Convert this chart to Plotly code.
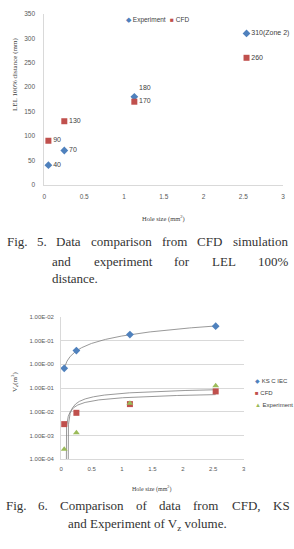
import numpy as np
import plotly.graph_objects as go

W, H = 294, 549

# ---------------- Fig. 5 data ----------------
hole_size = [0.05, 0.25, 1.13, 2.54]
lel_experiment = [40, 70, 180, 310]
lel_cfd = [90, 130, 170, 260]
lel_exp_labels = ["40", "70", "180", "310(Zone 2)"]
lel_cfd_labels = ["90", "130", "170", "260"]
x_ticks = [0, 0.5, 1, 1.5, 2, 2.5, 3]
x_ticktext = ["0", "0.5", "1", "1.5", "2", "2.5", "3"]

# ---------------- Fig. 6 data ----------------
vz_ks = [0.68, 3.8, 18, 41]
vz_cfd = [0.003, 0.009, 0.021, 0.072]
vz_exp = [0.00026, 0.0013, 0.023, 0.125]
vz_tickvals = [1e-4, 1e-3, 1e-2, 1e-1, 1e0, 1e1, 1e2]
vz_ticktext = ["1.00E-04", "1.00E-03", "1.00E-02", "1.00E-01",
               "1.00E-00", "1.00E-01", "1.00E-02"]

BLUE, RED, GREEN = "#4F81BD", "#C0504D", "#9BBB59"
TREND = "#7F7F7F"
AX = "#D9D9D9"
TXT = "#595959"
SERIF = "Liberation Serif, DejaVu Serif, serif"
SANS = "Liberation Sans, Arial, sans-serif"


def px(x):
    return x / W


def py(y):
    return 1 - y / H


def power_trend(x, y):
    a, b = np.polyfit(np.log(x), np.log(y), 1)
    xs = np.geomspace(min(x), max(x), 300)
    return xs, np.exp(b) * xs ** a


def log_trend(x, y):
    a, b = np.polyfit(np.log(x), np.array(y, float), 1)
    lo = min(x)
    x0 = np.exp(-b / a)
    if x0 > lo:
        xs = np.concatenate([[x0], np.geomspace(x0 * 1.0005, max(x), 400)])
    else:
        xs = np.geomspace(lo, max(x), 400)
    ys = a * np.log(xs) + b
    ys = np.where(ys <= 0, 1e-9, ys)
    return xs, ys


fig = go.Figure()

# ---- Fig. 5 scatter ----
fig.add_trace(go.Scatter(
    x=hole_size, y=lel_experiment, mode="markers+text", name="Experiment",
    marker=dict(symbol="diamond", size=6, color=BLUE),
    text=lel_exp_labels,
    textposition=["middle right", "middle right", "top right", "middle right"],
    textfont=dict(size=7, color="#404040", family=SANS),
    cliponaxis=False, xaxis="x", yaxis="y", showlegend=False))
fig.add_trace(go.Scatter(
    x=hole_size, y=lel_cfd, mode="markers+text", name="CFD",
    marker=dict(symbol="square", size=6, color=RED),
    text=lel_cfd_labels, textposition="middle right",
    textfont=dict(size=7, color="#404040", family=SANS),
    cliponaxis=False, xaxis="x", yaxis="y", showlegend=False))

# ---- Fig. 6 trendlines ----
for xs, ys in [power_trend(hole_size, vz_ks),
               log_trend(hole_size, vz_cfd),
               log_trend(hole_size, vz_exp)]:
    fig.add_trace(go.Scatter(x=xs, y=ys, mode="lines",
                             line=dict(color=TREND, width=0.8),
                             xaxis="x2", yaxis="y2", showlegend=False,
                             hoverinfo="skip"))

# ---- Fig. 6 markers ----
fig.add_trace(go.Scatter(x=hole_size, y=vz_ks, mode="markers", name="KS C IEC",
                         marker=dict(symbol="diamond", size=6, color=BLUE),
                         xaxis="x2", yaxis="y2", showlegend=False, cliponaxis=False))
fig.add_trace(go.Scatter(x=hole_size, y=vz_cfd, mode="markers", name="CFD",
                         marker=dict(symbol="square", size=6, color=RED),
                         xaxis="x2", yaxis="y2", showlegend=False, cliponaxis=False))
fig.add_trace(go.Scatter(x=hole_size, y=vz_exp, mode="markers", name="Experiment",
                         marker=dict(symbol="triangle-up", size=6, color=GREEN),
                         xaxis="x2", yaxis="y2", showlegend=False, cliponaxis=False))

tickfont = dict(size=6.5, color=TXT, family=SANS)

fig.update_layout(
    width=W, height=H,
    margin=dict(l=0, r=0, t=0, b=0),
    paper_bgcolor="white", plot_bgcolor="white",
    xaxis=dict(domain=[px(43), px(285)], range=[0, 3], anchor="y",
               tickvals=x_ticks, ticktext=x_ticktext, tickfont=tickfont,
               showgrid=False, zeroline=False, showline=True, linecolor=AX,
               ticks="", ticklabelstandoff=6),
    yaxis=dict(domain=[py(183), py(10)], range=[0, 350], anchor="x",
               dtick=50, tickfont=tickfont,
               showgrid=False, zeroline=False, showline=True, linecolor=AX,
               ticks="", ticklabelstandoff=7),
    xaxis2=dict(domain=[px(60), px(245)], range=[0, 3], anchor="y2",
                tickvals=x_ticks, ticktext=x_ticktext,
                tickfont=dict(size=6, color=TXT, family=SANS),
                showgrid=False, zeroline=False, showline=True, linecolor=AX,
                ticks="", ticklabelstandoff=4),
    yaxis2=dict(domain=[py(461), py(317)], type="log", range=[-4, 2], anchor="x2",
                tickvals=vz_tickvals, ticktext=vz_ticktext,
                tickfont=dict(size=6, color=TXT, family=SANS),
                showgrid=True, gridcolor=AX, gridwidth=1,
                zeroline=False, showline=True, linecolor=AX,
                ticks="", ticklabelstandoff=5),
)

ann = []


def add(text, x, y, size=7, family=SERIF, color="#404040", xanchor="left",
        angle=0):
    ann.append(dict(text=text, x=px(x), y=py(y), xref="paper", yref="paper",
                    xanchor=xanchor, yanchor="middle", showarrow=False,
                    textangle=angle, font=dict(size=size, family=family, color=color)))


# axis titles
add("LEL 100% distance (mm)", 13, 71, size=7, xanchor="center", angle=-90)
add("Hole size (mm<sup>2</sup>)", 164, 217, size=6.5, xanchor="center")
add("V<sub>z</sub>(m<sup>3</sup>)", 12, 383, size=7, xanchor="center", angle=-90)
add("Hole size (mm<sup>2</sup>)", 152, 491, size=6, xanchor="center")

# legends
add('<span style="color:%s">◆</span> Experiment' % BLUE, 124, 16, size=6.5, family=SANS)
add('<span style="color:%s">■</span> CFD' % RED, 168, 16, size=6.5, family=SANS)
add('<span style="color:%s">◆</span> KS C IEC' % BLUE, 254, 382, size=6, family=SANS)
add('<span style="color:%s">■</span> CFD' % RED, 254, 394, size=6, family=SANS)
add('<span style="color:%s">▲</span> Experiment' % GREEN, 254, 406, size=6, family=SANS)

# captions (justified word placement)
CAP = 13
CAPC = "#333333"
for w, x in [("Fig.", 3), ("5.", 33), ("Data", 53), ("comparison", 88),
             ("from", 160), ("CFD", 196), ("simulation", 232)]:
    add(w, x, 241, size=CAP, color=CAPC)
for w, x in [("and", 49), ("experiment", 91), ("for", 172), ("LEL", 211),
             ("100%", 257)]:
    add(w, x, 261, size=CAP, color=CAPC)
add("distance.", 49, 278, size=CAP, color=CAPC)

for w, x in [("Fig.", 2), ("6.", 34), ("Comparison", 57), ("of", 134),
             ("data", 157), ("from", 192), ("CFD,", 231), ("KS", 273)]:
    add(w, x, 508, size=CAP, color=CAPC)
add("and Experiment of V<sub>z</sub> volume.", 147, 527, size=CAP, color=CAPC,
    xanchor="center")

fig.update_layout(annotations=ann)
fig.write_html("out.html")
